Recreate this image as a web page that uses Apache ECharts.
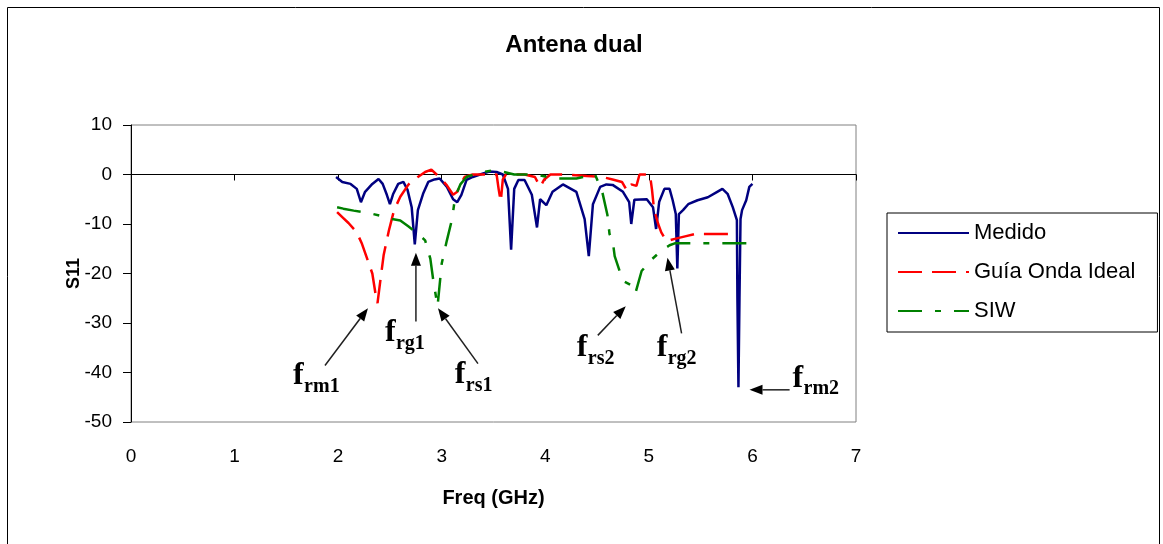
<!DOCTYPE html>
<html>
<head>
<meta charset="utf-8">
<script src="https://cdn.jsdelivr.net/npm/echarts@6/dist/echarts.min.js"></script>
<style>
  html, body { margin: 0; background: #fff; }
  #chart { width: 1163px; height: 544px; }
</style>
</head>
<body>
<div id="chart"></div>
<script>
  // S11 (dB) vs frecuencia (GHz)
  const medido = [
    [1.98, -0.5], [2.04, -1.5], [2.12, -1.9], [2.18, -2.9], [2.22, -5.6], [2.26, -3.5],
    [2.33, -1.9], [2.39, -0.9], [2.43, -1.9], [2.47, -4.1], [2.5, -6.0], [2.53, -4.0],
    [2.58, -1.9], [2.63, -1.5], [2.67, -3.1], [2.71, -6.6], [2.74, -14.1], [2.77, -7.2],
    [2.82, -3.9], [2.87, -1.5], [2.93, -1.0], [2.98, -0.8], [3.05, -2.5], [3.11, -5.0],
    [3.15, -5.6], [3.19, -4.1], [3.24, -1.1], [3.3, -0.5], [3.37, 0], [3.46, 0.6],
    [3.53, 0.5], [3.59, 0], [3.64, -2.9], [3.67, -15.2], [3.7, -2.9], [3.74, -1.1],
    [3.8, -1.1], [3.87, -4.1], [3.92, -10.7], [3.95, -5.0], [4.01, -6.2], [4.07, -3.5],
    [4.17, -2.0], [4.3, -3.5], [4.38, -9.0], [4.42, -16.5], [4.46, -6.0], [4.53, -2.5],
    [4.59, -2.0], [4.65, -2.1], [4.75, -3.5], [4.81, -5.6], [4.83, -10.0], [4.86, -5.1],
    [4.98, -5.0], [5.04, -6.6], [5.07, -11.0], [5.1, -5.5], [5.15, -2.9], [5.2, -2.9],
    [5.23, -5.2], [5.26, -8.0], [5.275, -19.0], [5.29, -8.0], [5.33, -7.2], [5.38, -6.0],
    [5.47, -5.2], [5.57, -4.6], [5.66, -3.5], [5.71, -2.9], [5.76, -3.9], [5.81, -6.6],
    [5.85, -9.2], [5.855, -25], [5.865, -43], [5.875, -25], [5.885, -9], [5.9, -7.2],
    [5.94, -5.2], [5.97, -2.5], [6.0, -1.9]
  ]
  const guiaIdeal = [
    [1.99, -7.6], [2.05, -8.8], [2.1, -9.8], [2.18, -11.7], [2.23, -14], [2.28, -17],
    [2.33, -20], [2.36, -24], [2.38, -26], [2.41, -21], [2.44, -16.2], [2.49, -11.3],
    [2.54, -7.2], [2.6, -4.5], [2.68, -2], [2.77, -0.5], [2.84, 0.5], [2.9, 1.0],
    [2.95, 0], [3.0, -1], [3.05, -2.2], [3.11, -4.1], [3.15, -3.5], [3.18, -2.1],
    [3.22, -0.5], [3.3, 0], [3.45, 0], [3.53, 0], [3.55, -3], [3.57, -5.5], [3.59, -1],
    [3.62, 0], [3.8, 0], [3.9, -0.5], [3.95, -2.5], [3.99, -1], [4.05, 0], [4.2, 0],
    [4.4, -0.3], [4.55, -0.5], [4.65, -1], [4.74, -1.5], [4.79, -3.3], [4.83, -2],
    [4.88, -2.3], [4.91, 0], [5.01, 0], [5.03, -3], [5.05, -7], [5.09, -10], [5.12, -11.7],
    [5.17, -13.5], [5.25, -13], [5.35, -12.5], [5.45, -12], [5.6, -12], [5.83, -12]
  ]
  const siw = [
    [1.99, -6.6], [2.05, -6.9], [2.15, -7.3], [2.24, -7.6], [2.32, -7.9], [2.4, -8.3],
    [2.45, -8.6], [2.52, -9.0], [2.6, -9.3], [2.68, -10.5], [2.76, -11.8], [2.84, -13.3],
    [2.89, -17], [2.92, -21.6], [2.96, -26.6], [3.0, -18], [3.05, -13.3], [3.1, -9],
    [3.13, -4.5], [3.18, -2], [3.24, -0.5], [3.35, 0.3], [3.48, 0.8], [3.6, 0.5],
    [3.7, 0], [3.9, 0], [4.1, -0.8], [4.3, -0.8], [4.48, 0], [4.55, -3.5], [4.6, -8.2],
    [4.62, -12], [4.65, -13.3], [4.67, -16.5], [4.75, -21.5], [4.84, -22.5], [4.87, -24],
    [4.93, -19.5], [5.02, -17.3], [5.12, -15.4], [5.2, -14.3], [5.25, -13.9], [6.0, -13.9]
  ]

  // anotaciones: subíndice, cola y punta de flecha, posición del texto (GHz, dB)
  const annoSub = ["rm1", "rg1", "rs1", "rs2", "rg2", "rm2"]
  const annoTail = [[1.873, -38.6], [2.751, -29.7], [3.35, -38.2], [4.507, -32.5], [5.316, -32.1], [6.359, -43.5]]
  const annoHead = [[2.288, -27.0], [2.751, -15.8], [2.964, -27.0], [4.777, -26.6], [5.18, -16.8], [5.972, -43.5]]
  const annoText = [[1.565, -43.9], [2.452, -35.2], [3.127, -43.7], [4.304, -38.2], [5.076, -38.2], [6.387, -44.4]]

  const sans = "Liberation Sans, Arial, sans-serif"
  const serif = "Liberation Serif, Times New Roman, serif"

  const chart = echarts.init(document.getElementById("chart"))

  const option = {
    animation: false,
    backgroundColor: "#fff",
    textStyle: { fontFamily: sans },
    grid: {
      left: 131,
      right: 307,
      top: 125,
      bottom: 122,
      show: true,
      borderColor: "#808080",
      borderWidth: 1,
      backgroundColor: "#fff",
    },
    legend: {
      orient: "vertical",
      left: 887,
      top: 213,
      itemWidth: 71,
      itemHeight: 14,
      itemGap: 17,
      padding: [9, 22, 10, 10],
      borderColor: "#000",
      borderWidth: 1,
      borderRadius: 0,
      itemStyle: { opacity: 0 },
      textStyle: { fontSize: 22, color: "#000", fontFamily: sans },
      data: ["Medido", "Guía Onda Ideal", "SIW"],
    },
    xAxis: [
      {
        type: "value",
        min: 0,
        max: 7,
        interval: 1,
        position: "bottom",
        name: "Freq (GHz)",
        nameLocation: "middle",
        nameGap: 66,
        nameTextStyle: { fontSize: 20, fontWeight: "bold", color: "#000" },
        axisLine: { show: false, onZero: false },
        axisTick: { show: false },
        splitLine: { show: false },
        axisLabel: { color: "#000", fontSize: 19, margin: 25 },
      },
      {
        type: "value",
        min: 0,
        max: 7,
        interval: 1,
        position: "bottom",
        axisLine: { show: true, onZero: true, lineStyle: { color: "#000", width: 1 } },
        axisTick: { show: true, length: 6, lineStyle: { color: "#000" } },
        axisLabel: { show: false },
        splitLine: { show: false },
      },
    ],
    yAxis: {
      type: "value",
      min: -50,
      max: 10,
      interval: 10,
      name: "S11",
      nameLocation: "middle",
      nameGap: 48,
      nameMoveOverlap: false,
      nameTextStyle: { fontSize: 18, fontWeight: "bold", color: "#000" },
      axisLine: { show: true, onZero: false, lineStyle: { color: "#000", width: 1 } },
      axisTick: { show: true, length: 8, lineStyle: { color: "#000" } },
      splitLine: { show: false },
      axisLabel: { color: "#000", fontSize: 19, margin: 19 },
    },
    series: [
      {
        name: "Medido",
        type: "line",
        symbol: "none",
        data: medido,
        lineStyle: { color: "#000080", width: 2.5 },
        itemStyle: { color: "#000080" },
      },
      {
        name: "Guía Onda Ideal",
        type: "line",
        symbol: "none",
        data: guiaIdeal,
        lineStyle: { color: "#ff0000", width: 2.5, type: [24, 10] },
        itemStyle: { color: "#ff0000" },
      },
      {
        name: "SIW",
        type: "line",
        symbol: "none",
        data: siw,
        lineStyle: { color: "#008000", width: 2.5, type: [24, 13, 6, 13] },
        itemStyle: { color: "#008000" },
      },
    ],
  }
  chart.setOption(option)

  // flechas y etiquetas f_xx
  const graphics = [
    {
      type: "rect",
      shape: { x: 7.5, y: 7.5, width: 1152, height: 560 },
      style: { fill: null, stroke: "#000", lineWidth: 1 },
      silent: true,
    },
    {
      type: "text",
      x: 574,
      y: 45,
      style: {
        text: "Antena dual",
        font: "bold 24px " + sans,
        fill: "#000",
        align: "center",
        verticalAlign: "middle",
      },
    },
  ]
  annoSub.forEach((sub, i) => {
    const t = chart.convertToPixel({ gridIndex: 0 }, annoTail[i])
    const h = chart.convertToPixel({ gridIndex: 0 }, annoHead[i])
    const dx = h[0] - t[0]
    const dy = h[1] - t[1]
    const len = Math.sqrt(dx * dx + dy * dy)
    const ux = dx / len
    const uy = dy / len
    const hl = 13
    const hw = 5
    const bx = h[0] - ux * hl
    const by = h[1] - uy * hl
    graphics.push({
      type: "line",
      shape: { x1: t[0], y1: t[1], x2: bx, y2: by },
      style: { stroke: "#202020", lineWidth: 1.5 },
    })
    graphics.push({
      type: "polygon",
      shape: {
        points: [
          [h[0], h[1]],
          [bx - uy * hw, by + ux * hw],
          [bx + uy * hw, by - ux * hw],
        ],
      },
      style: { fill: "#000" },
    })
    const p = chart.convertToPixel({ gridIndex: 0 }, annoText[i])
    graphics.push({
      type: "text",
      x: p[0],
      y: p[1],
      style: {
        text: "f",
        font: "bold 32px " + serif,
        fill: "#000",
        align: "left",
        verticalAlign: "bottom",
      },
    })
    graphics.push({
      type: "text",
      x: p[0] + 11,
      y: p[1] + 5,
      style: {
        text: sub,
        font: "bold 20px " + serif,
        fill: "#000",
        align: "left",
        verticalAlign: "bottom",
      },
    })
  })
  chart.setOption({ graphic: graphics })
</script>
</body>
</html>
